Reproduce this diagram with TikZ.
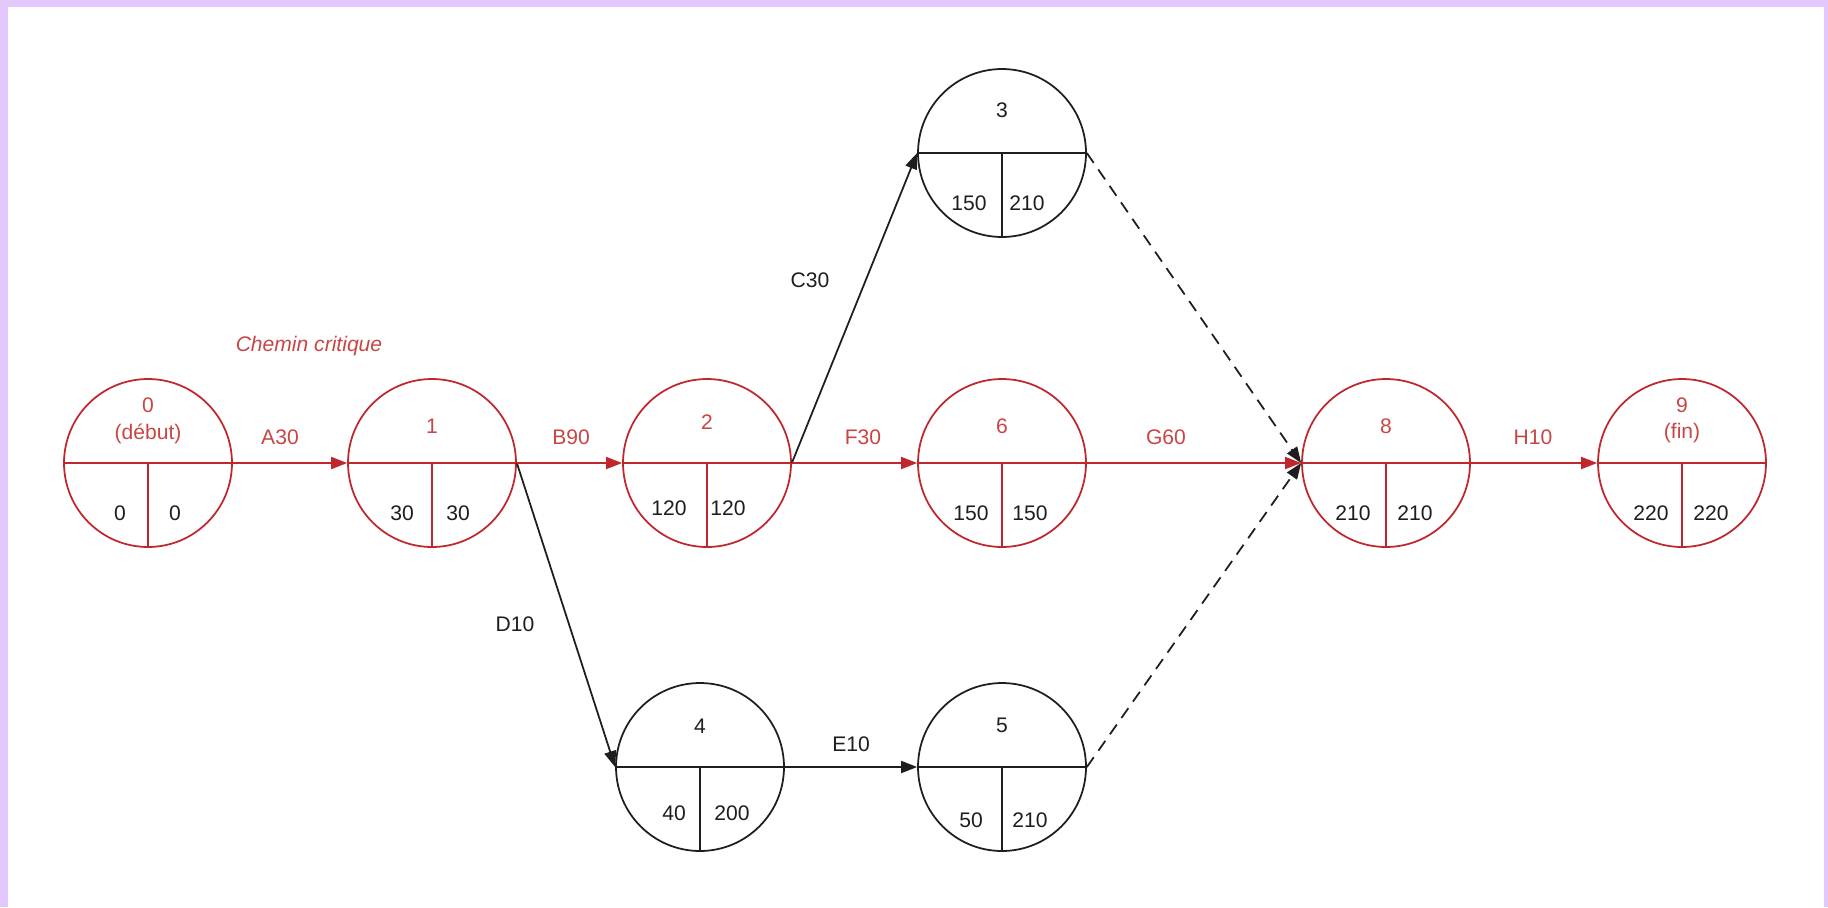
\documentclass[tikz,border=0pt]{standalone}
\usepackage{fontspec}
\setmainfont{Liberation Sans}
\usetikzlibrary{arrows.meta}
\definecolor{lav}{HTML}{E3C8FD}
\definecolor{crit}{HTML}{C0272D}
\definecolor{crittxt}{HTML}{C84646}
\definecolor{ink}{HTML}{1E1E1E}
\begin{document}
\begin{tikzpicture}[x=0.02cm,y=-0.02cm,
  evt/.style={circle,draw,minimum size=3.36cm,inner sep=0pt,line width=1pt},
  lbl/.style={font=\fontsize{12}{14}\selectfont,inner sep=0pt},
  arr/.style={line width=1pt,-{Triangle[length=0.32cm,width=0.24cm]}},
  dsh/.style={arr,dash pattern=on 0.24cm off 0.16cm},
  div/.style={line width=1pt}]
\fill[lav] (0,0) rectangle (1828,907);
\fill[white] (8,7) rectangle (1824,907);
\useasboundingbox (0,0) rectangle (1828,907);

% events
\node[evt,draw=crit] (n0) at (148,463) {};
\node[evt,draw=crit] (n1) at (432,463) {};
\node[evt,draw=crit] (n2) at (707,463) {};
\node[evt,draw=crit] (n6) at (1002,463) {};
\node[evt,draw=crit] (n8) at (1386,463) {};
\node[evt,draw=crit] (n9) at (1682,463) {};
\node[evt,draw=ink] (n3) at (1002,153) {};
\node[evt,draw=ink] (n4) at (700,767) {};
\node[evt,draw=ink] (n5) at (1002,767) {};

\foreach \n in {n0,n1,n2,n6,n8,n9}
  \draw[div,crit] (\n.west) -- (\n.east) (\n.center) -- (\n.south);
\foreach \n in {n3,n4,n5}
  \draw[div,ink] (\n.west) -- (\n.east) (\n.center) -- (\n.south);

% event texts
\node[lbl,text=crittxt] (t0a) at (148,405) {0};
\node[lbl,text=crittxt] (t0b) at (148,434) {(début)};
\node[lbl,text=ink] (t0c) at (120,513) {0};
\node[lbl,text=ink] (t0d) at (175,513) {0};

\node[lbl,text=crittxt] (t1a) at (432,426) {1};
\node[lbl,text=ink] (t1c) at (402,513) {30};
\node[lbl,text=ink] (t1d) at (458,513) {30};

\node[lbl,text=crittxt] (t2a) at (707,422) {2};
\node[lbl,text=ink] (t2c) at (669,508) {120};
\node[lbl,text=ink] (t2d) at (728,508) {120};

\node[lbl,text=crittxt] (t6a) at (1002,426) {6};
\node[lbl,text=ink] (t6c) at (971,513) {150};
\node[lbl,text=ink] (t6d) at (1030,513) {150};

\node[lbl,text=crittxt] (t8a) at (1386,426) {8};
\node[lbl,text=ink] (t8c) at (1353,513) {210};
\node[lbl,text=ink] (t8d) at (1415,513) {210};

\node[lbl,text=crittxt] (t9a) at (1682,405) {9};
\node[lbl,text=crittxt] (t9b) at (1682,433) {(fin)};
\node[lbl,text=ink] (t9c) at (1651,513) {220};
\node[lbl,text=ink] (t9d) at (1711,513) {220};

\node[lbl,text=ink] (t3a) at (1002,110) {3};
\node[lbl,text=ink] (t3c) at (969,203) {150};
\node[lbl,text=ink] (t3d) at (1027,203) {210};

\node[lbl,text=ink] (t4a) at (700,726) {4};
\node[lbl,text=ink] (t4c) at (674,813) {40};
\node[lbl,text=ink] (t4d) at (732,813) {200};

\node[lbl,text=ink] (t5a) at (1002,725) {5};
\node[lbl,text=ink] (t5c) at (971,820) {50};
\node[lbl,text=ink] (t5d) at (1030,820) {210};

% non-critical activities
\draw[arr,ink] (n2.east) -- (n3.west);
\draw[arr,ink] (n1.east) -- (n4.west);
\draw[arr,ink] (n4.east) -- (n5.west);
\draw[dsh,ink] (n3.east) -- (n8.west);
\draw[dsh,ink] (n5.east) -- (n8.west);

% critical path
\draw[arr,crit] (n0.east) -- (n1.west);
\draw[arr,crit] (n1.east) -- (n2.west);
\draw[arr,crit] (n2.east) -- (n6.west);
\draw[arr,crit] (n6.east) -- (n8.west);
\draw[arr,crit] (n8.east) -- (n9.west);

% activity labels
\node[lbl,text=crittxt] (la) at (280,437) {A30};
\node[lbl,text=crittxt] (lb) at (571,437) {B90};
\node[lbl,text=crittxt] (lf) at (863,437) {F30};
\node[lbl,text=crittxt] (lg) at (1166,437) {G60};
\node[lbl,text=crittxt] (lh) at (1533,437) {H10};
\node[lbl,text=ink] (lc) at (810,280) {C30};
\node[lbl,text=ink] (ld) at (515,624) {D10};
\node[lbl,text=ink] (le) at (851,744) {E10};

\node[lbl,text=crittxt,font=\fontsize{12}{14}\selectfont\itshape] (cc) at (309,346) {Chemin critique};
\end{tikzpicture}
\end{document}
